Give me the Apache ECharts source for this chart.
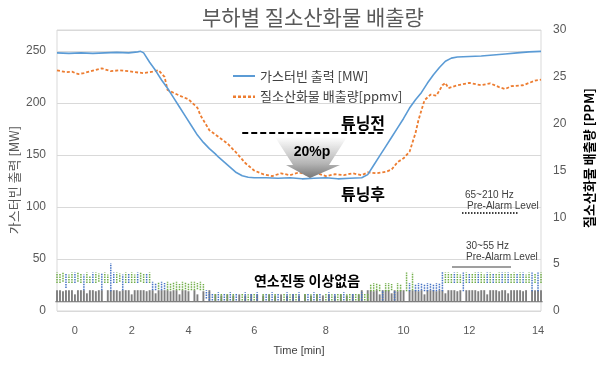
<!DOCTYPE html>
<html><head><meta charset="utf-8">
<script src="https://cdn.jsdelivr.net/npm/echarts@6/dist/echarts.min.js"></script>
<style>html,body{margin:0;padding:0;background:#fff}#c{width:600px;height:370px}</style>
</head><body><div id="c"></div>
<script>
// ---------- data ----------
const N_POINTS = 163;
const tickIdx = [6, 25, 44, 66, 90, 116, 138, 161];
const tickLabels = ['0', '2', '4', '6', '8', '10', '12', '14'];

// gas turbine output [MW] (left axis) : [sample index, MW]
const turbineMW = [[0,248],[4,247.5],[8,248],[12,247.5],[16,248],[20,248.5],[24,248],[27,249],[28,249.5],[29,248],[31,239],[33,231],[35,222],[37,214],[39,205],[41,196],[43,187],[45,178],[47,169],[49,162],[51,156],[53,151],[54,148],[56,143],[58,138],[60,133],[62,130],[64,128.5],[66,128],[70,128],[74,127.5],[78,128],[82,127],[86,127.5],[90,128],[94,127],[98,127.5],[102,128],[104,131],[106,140],[108,149],[110,158],[112,167],[114,176],[116,185],[118,195],[120,203],[122,210],[124,219],[126,227],[128,234],[130,240],[132,243],[134,244],[138,244.5],[142,245],[146,246],[150,247],[154,248],[158,249],[162,249.5]];

// NOx emission [ppmv] (right axis) : [sample index, ppm]
const noxPpmv = [[0,25.7],[3,25.5],[5,25.55],[7,25.3],[9,25.4],[12,25.66],[15,25.9],[18,25.6],[21,25.7],[24,25.6],[26,25.5],[29,25.4],[32,25.55],[34,25.7],[36,25.0],[37,23.6],[39,23.3],[41,23.0],[44,22.6],[46,22.0],[47,21.7],[48,20.9],[51,19.3],[54,18.6],[57,17.9],[60,16.9],[63,15.8],[66,15.0],[69,14.6],[72,14.4],[75,14.7],[78,14.5],[81,14.8],[84,14.5],[87,14.7],[90,14.4],[93,14.6],[96,14.5],[99,14.7],[102,14.5],[104,14.8],[107,14.7],[110,14.85],[112,15.1],[114,15.9],[116,16.3],[118,17.0],[120,19.0],[121,20.4],[123,22.5],[125,23.1],[127,23.0],[129,24.1],[130,24.35],[131,23.8],[134,24.1],[138,24.35],[142,24.1],[145,24.3],[148,23.9],[150,23.7],[152,24.0],[156,24.1],[158,24.35],[160,24.6],[162,24.7]];

// "before tuning" reference level (left axis)
const tuneBefore = [[62,171],[109,171]];

// combustion dynamics traces (left-axis units)
const GRAY_BASE = 9;
const grayTop = [
 20,20,19,20,20,20,16,20,20,20,
 17,20,20,19,20,20,9,20,20,20,
 20,19,20,20,20,16,20,20,20,20,
 19,20,20,17,20,20,20,20,19,20,
 20,16,20,20,19,9,20,16,9,19,
 9,20,9,16,9,15,9,16,9,15,
 9,16,9,15,9,16,9,16,9,15,
 9,16,9,15,9,16,9,15,9,16,
 9,15,9,16,9,15,9,16,9,15,
 9,16,9,15,9,16,9,15,9,16,
 9,16,20,9,20,20,19,20,16,20,
 20,20,17,20,19,20,20,9,20,20,
 20,19,20,16,20,20,20,19,20,20,
 17,20,20,20,19,20,9,20,20,20,
 20,19,20,20,16,20,20,20,19,20,
 20,17,20,20,20,20,19,20,9,20,
 20,20,20];

// [index, low, high]
const greenBars = [
 [0,27,37],[1,27,36],[2,28,37],[4,27,35],[5,27,37],[7,28,37],[8,27,36],[10,27,37],[11,27,34],[13,27,37],[14,28,36],[16,27,37],[17,27,35],[20,27,37],[21,28,36],[23,27,37],[25,27,37],[26,27,35],[28,28,37],[29,27,36],[31,27,37],
 [34,21,28],[37,20,28],[38,20,27],[39,21,28],[40,20,28],[41,20,26],[42,20,28],[43,21,28],[44,20,27],[45,20,28],[46,20,28],[47,21,27],[48,20,28],[49,20,26],
 [53,10,17],[55,10,17],[57,10,16],[59,10,17],[62,10,17],[64,10,16],[66,10,17],[69,10,17],[71,10,16],[73,10,17],[76,10,17],[78,10,16],[80,10,17],[83,10,17],[85,10,16],[87,10,17],[90,10,17],[92,10,16],[94,10,17],[95,10,17],[97,10,16],[98,10,17],[100,10,17],[101,10,16],[103,10,17],[104,10,17],
 [105,19,26],[106,19,27],[107,20,27],[108,19,26],[110,19,27],[111,19,27],[112,20,26],[114,19,27],[115,19,26],[117,19,37],[119,20,37],
 [130,27,37],[131,27,37],[132,27,36],[134,27,37],[135,27,35],[137,27,37],[139,27,36],[140,27,37],[142,27,37],[143,27,35],[145,27,37],[147,27,36],[148,27,37],[150,27,37],[152,27,36],[153,27,37],[155,27,37],[157,27,35],[158,27,37],[160,27,36],[162,27,37]];

const blueBars = [
 [3,22,36],[6,27,37],[9,20,35],[12,27,37],[15,20,36],[18,19,46],[19,27,37],[22,20,35],[24,27,36],[27,27,37],[30,27,36],
 [32,20,28],[33,20,27],[35,20,28],[36,21,27],[50,12,20],[51,10,18],
 [52,10,17],[54,10,18],[56,10,17],[58,10,18],[60,10,17],[63,10,18],[65,10,17],[67,10,18],[70,10,17],[72,10,18],[74,10,17],[77,10,18],[79,10,17],[81,10,18],[84,10,17],[86,10,18],[88,10,17],[91,10,18],[93,10,17],[96,10,18],[99,10,17],[102,10,18],
 [109,10,20],[113,10,19],
 [118,19,27],[120,19,26],[121,19,27],[122,20,27],[123,19,26],[124,19,27],[125,20,27],[126,19,26],[127,19,27],[128,20,27],[129,19,38],
 [133,27,37],[136,19,37],[138,27,36],[141,27,37],[144,27,37],[146,27,36],[149,27,37],[151,27,37],[154,27,36],[156,27,37],[159,19,37],[161,19,37]];

// ---------- build ----------
const categories = new Array(N_POINTS).fill('');
tickIdx.forEach((ix, k) => { categories[ix] = tickLabels[k]; });
const grayData = grayTop.map((t, i) => [i, GRAY_BASE, t]);

const FONT = "'Liberation Sans', 'Noto Sans CJK KR', sans-serif";
const KFONT = "'Noto Sans CJK KR', 'Liberation Sans', sans-serif";
const ICON_SOLID = 'path://M0,0M0,14M0,6h22v2h-22z';
const ICON_DASH = 'path://M0,0M0,14M0,6h3v2.4h-3zM5,6h3v2.4h-3zM10,6h3v2.4h-3zM15,6h3v2.4h-3zM20,6h2v2.4h-2z';

function dottedBars(color) {
  return function (params, api) {
    const x = api.value(0);
    const lo = api.coord([x, api.value(1)]);
    const hi = api.coord([x, api.value(2)]);
    return { type: 'line', shape: { x1: lo[0], y1: lo[1], x2: hi[0], y2: hi[1] },
      style: { stroke: color, lineWidth: 1.5, lineDash: [1.5, 1] } };
  };
}
function grayRender(params, api) {
  const x = api.value(0);
  const b = api.coord([x, api.value(1)]);
  const t = api.coord([x, api.value(2)]);
  const ch = [{ type: 'line', shape: { x1: b[0] - 1.6, y1: b[1], x2: b[0] + 1.6, y2: b[1] }, style: { stroke: '#7f7f7f', lineWidth: 1.3 } }];
  if (api.value(2) > api.value(1)) ch.push({ type: 'line', shape: { x1: b[0], y1: b[1], x2: t[0], y2: t[1] }, style: { stroke: '#7f7f7f', lineWidth: 1.9 } });
  return { type: 'group', children: ch };
}

const chart = echarts.init(document.getElementById('c'), null, { renderer: 'canvas' });
chart.setOption({
  animation: false,
  textStyle: { fontFamily: FONT },
  grid: { left: 57, right: 59, top: 30, bottom: 59, show: true, borderColor: '#d9d9d9', borderWidth: 1, containLabel: false },
  legend: {
    data: [
      { name: '가스터빈 출력 [MW]', icon: ICON_SOLID, itemStyle: { color: '#5b9bd5' } },
      { name: '질소산화물 배출량[ppmv]', icon: ICON_DASH, itemStyle: { color: '#ed7d31' } }
    ],
    orient: 'vertical', left: 233, top: 69, padding: 0, itemWidth: 22, itemHeight: 14, itemGap: 6.5,
    textStyle: { fontSize: 13, color: '#404040', fontFamily: KFONT }
  },
  xAxis: {
    type: 'category', data: categories, boundaryGap: false,
    axisLine: { show: false }, axisTick: { show: false }, splitLine: { show: false },
    axisLabel: { interval: (i, v) => v !== '', color: '#595959', fontSize: 11, margin: 14 },
    name: 'Time [min]', nameLocation: 'middle', nameGap: 34,
    nameTextStyle: { color: '#404040', fontSize: 11 }
  },
  yAxis: [
    { type: 'value', min: 0, max: 270, interval: 50,
      axisLine: { show: false }, axisTick: { show: false },
      splitLine: { lineStyle: { color: '#d9d9d9', width: 1 } },
      axisLabel: { color: '#595959', fontSize: 12, margin: 11, showMaxLabel: false } },
    { type: 'value', min: 0, max: 30, interval: 5, position: 'right',
      axisLine: { show: false }, axisTick: { show: false }, splitLine: { show: false },
      axisLabel: { color: '#595959', fontSize: 12, margin: 12 } }
  ],
  series: [
    { type: 'custom', name: 'gray', yAxisIndex: 0, renderItem: grayRender, data: grayData, encode: { x: 0, y: [1, 2] }, silent: true, z: 1 },
    { type: 'custom', name: 'green', yAxisIndex: 0, renderItem: dottedBars('#70ad47'), data: greenBars, encode: { x: 0, y: [1, 2] }, silent: true, z: 2 },
    { type: 'custom', name: 'blue', yAxisIndex: 0, renderItem: dottedBars('#4472c4'), data: blueBars, encode: { x: 0, y: [1, 2] }, silent: true, z: 3 },
    { type: 'line', name: 'tuneBefore', yAxisIndex: 0, data: tuneBefore, symbol: 'none',
      lineStyle: { color: '#000', width: 2, type: [6, 3] }, z: 4, silent: true },
    { type: 'line', name: '가스터빈 출력 [MW]', yAxisIndex: 0, data: turbineMW, symbol: 'none',
      lineStyle: { color: '#5b9bd5', width: 1.6 }, itemStyle: { color: '#5b9bd5' }, z: 6 },
    { type: 'line', name: '질소산화물 배출량[ppmv]', yAxisIndex: 1, data: noxPpmv, symbol: 'none',
      lineStyle: { color: '#ed7d31', width: 1.8, type: [3, 2] }, itemStyle: { color: '#ed7d31' }, z: 5 }
  ],
  graphic: [
    { type: 'text', x: 202, y: 17, z: 20, style: { text: '부하별 질소산화물 배출량', font: "21px 'Noto Sans CJK KR', sans-serif", fill: '#595959', verticalAlign: 'middle' } },
    { type: 'text', x: 14, y: 180, rotation: Math.PI / 2, z: 20, style: { text: '가스터빈 출력 [MW]', font: "13px 'Noto Sans CJK KR', sans-serif", fill: '#595959', align: 'center', verticalAlign: 'middle' } },
    { type: 'text', x: 589, y: 158, rotation: Math.PI / 2, z: 20, style: { text: '질소산화물 배출량 [PPM]', font: "bold 13px 'Noto Sans CJK KR', sans-serif", fill: '#000', align: 'center', verticalAlign: 'middle' } },
    { type: 'polygon', z: 10, shape: { points: [[275,137],[347,137],[329,165],[340,165],[310,178],[286,165],[293,165]] },
      style: { fill: { type: 'linear', x: 0, y: 0, x2: 0, y2: 1, colorStops: [{ offset: 0, color: 'rgba(255,255,255,0.95)' }, { offset: 0.65, color: '#b4b4b4' }, { offset: 1, color: '#767676' }] } } },
    { type: 'text', x: 312, y: 152, z: 21, style: { text: '20%p', font: "bold 14px 'Liberation Sans', sans-serif", fill: '#000', align: 'center', verticalAlign: 'middle' } },
    { type: 'text', x: 363, y: 122.5, z: 21, style: { text: '튜닝전', font: "bold 16px 'Noto Sans CJK KR', sans-serif", fill: '#000', align: 'center', verticalAlign: 'middle' } },
    { type: 'text', x: 363, y: 194, z: 21, style: { text: '튜닝후', font: "bold 16px 'Noto Sans CJK KR', sans-serif", fill: '#000', align: 'center', verticalAlign: 'middle' } },
    { type: 'text', x: 307, y: 281, z: 21, style: { text: '연소진동 이상없음', font: "bold 14px 'Noto Sans CJK KR', sans-serif", fill: '#000', align: 'center', verticalAlign: 'middle' } },
    { type: 'text', x: 465, y: 195, z: 21, style: { text: '65~210 Hz', font: "10px 'Liberation Sans', sans-serif", fill: '#404040', verticalAlign: 'middle' } },
    { type: 'text', x: 467, y: 206, z: 21, style: { text: 'Pre-Alarm Level', font: "10px 'Liberation Sans', sans-serif", fill: '#404040', verticalAlign: 'middle' } },
    { type: 'line', z: 21, shape: { x1: 462, y1: 213, x2: 518, y2: 213 }, style: { stroke: '#000', lineWidth: 1.5, lineDash: [1.5, 1.5] } },
    { type: 'text', x: 466, y: 246, z: 21, style: { text: '30~55 Hz', font: "10px 'Liberation Sans', sans-serif", fill: '#404040', verticalAlign: 'middle' } },
    { type: 'text', x: 466, y: 257, z: 21, style: { text: 'Pre-Alarm Level', font: "10px 'Liberation Sans', sans-serif", fill: '#404040', verticalAlign: 'middle' } },
    { type: 'line', z: 21, shape: { x1: 452, y1: 267, x2: 511, y2: 267 }, style: { stroke: '#7f7f7f', lineWidth: 1.5 } }
  ]
});
</script></body></html>
